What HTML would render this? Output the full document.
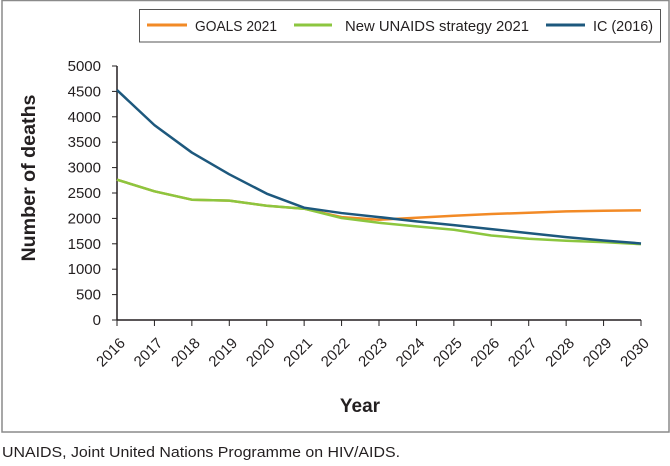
<!DOCTYPE html>
<html><head><meta charset="utf-8"><style>
body{margin:0;background:#fff;font-family:"Liberation Sans",sans-serif}
svg text{font-family:"Liberation Sans",sans-serif;fill:#231f20}
</style></head><body>
<svg width="670" height="461" viewBox="0 0 670 461">
<rect x="2" y="0.5" width="667" height="431.5" fill="none" stroke="#8a8a8a" stroke-width="1.5"/>
<g id="axes"></g><g id="lines"></g>
<g>
<rect x="139.5" y="9.5" width="521" height="32.5" fill="#fff" stroke="#555"/>
<line x1="147" y1="25" x2="187" y2="25" stroke="#f28a26" stroke-width="3"/>
<text x="195" y="31" font-size="15" textLength="82" lengthAdjust="spacingAndGlyphs">GOALS 2021</text>
<line x1="294" y1="25" x2="332" y2="25" stroke="#8cc63f" stroke-width="3"/>
<text x="345" y="31" font-size="15" textLength="184" lengthAdjust="spacingAndGlyphs">New UNAIDS strategy 2021</text>
<line x1="546" y1="25" x2="585" y2="25" stroke="#1d587d" stroke-width="3"/>
<text x="593" y="31" font-size="15" textLength="60" lengthAdjust="spacingAndGlyphs">IC (2016)</text>
</g>
<text transform="translate(35,178) rotate(-90)" text-anchor="middle" font-size="19" font-weight="bold" textLength="167" lengthAdjust="spacingAndGlyphs">Number of deaths</text>
<text x="360" y="412" text-anchor="middle" font-size="19" font-weight="bold">Year</text>
<text x="2" y="457" font-size="15" textLength="398" lengthAdjust="spacingAndGlyphs">UNAIDS, Joint United Nations Programme on HIV/AIDS.</text>
</svg>
<script>
const years=[2016,2017,2018,2019,2020,2021,2022,2023,2024,2025,2026,2027,2028,2029,2030];
const goals=[2763,2533,2368,2349,2250,2191,2026,1974,2013,2053,2086,2112,2138,2151,2158];
const unaids=[2763,2533,2368,2349,2250,2191,2007,1914,1842,1776,1664,1599,1559,1533,1493];
const ic=[4526,3836,3296,2868,2487,2211,2105,2026,1941,1868,1789,1711,1632,1566,1507];
const yTicks=[0,500,1000,1500,2000,2500,3000,3500,4000,4500,5000];
const NS="http://www.w3.org/2000/svg";
const x0=117,x1=641,yb=320,yt=66;
const X=i=>x0+(x1-x0)*i/(years.length-1);
const Y=v=>yb-(yb-yt)*v/5000;
function mk(t,a,p){const e=document.createElementNS(NS,t);for(const k in a)e.setAttribute(k,a[k]);p.appendChild(e);return e;}
const ax=document.getElementById('axes');
const yl=mk('line',{x1:x0,y1:yt,x2:x0,y2:yb,stroke:'#231f20','stroke-width':1.5},ax);


const xl=mk('line',{x1:x0,y1:yb,x2:x1,y2:yb,stroke:'#231f20','stroke-width':1.5},ax);


yTicks.forEach(v=>{mk('line',{x1:x0-5,y1:Y(v),x2:x0,y2:Y(v),stroke:'#231f20'},ax);
const t=mk('text',{x:x0-16,y:Y(v)+5,'text-anchor':'end','font-size':15},ax);t.textContent=v;

});
years.forEach((yr,i)=>{mk('line',{x1:X(i),y1:yb,x2:X(i),y2:yb+6,stroke:'#231f20'},ax);
const t=mk('text',{x:X(i)+9,y:yb+24,'text-anchor':'end','font-size':15,transform:`rotate(-45 ${X(i)+9} ${yb+24})`},ax);t.textContent=yr;

});
const lg=document.getElementById('lines');
[[goals,'#f28a26','line-goals-2021'],[unaids,'#8cc63f','line-new-unaids-strategy-2021'],[ic,'#1d587d','line-ic-2016']].forEach(([d,c,n])=>{
const p=mk('polyline',{points:d.map((v,i)=>X(i)+','+Y(v)).join(' '),fill:'none',stroke:c,'stroke-width':2.5,'stroke-linejoin':'round'},lg);

});
</script>
</body></html>
